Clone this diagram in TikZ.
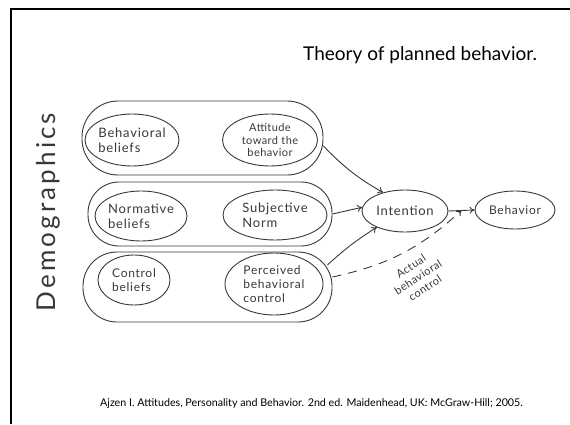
\documentclass[tikz,border=0pt]{standalone}
\usepackage{fontspec}
\setmainfont{Lato}
\usetikzlibrary{shapes.geometric,arrows.meta,calc}
\definecolor{ink}{HTML}{383838}
\begin{document}
\begin{tikzpicture}[x=1pt,y=1pt,
  group/.style={draw=ink, line width=0.9pt, rectangle, inner sep=0pt},
  ring/.style={draw=ink, line width=0.9pt, ellipse, inner sep=0pt},
  hand/.style={text=ink, align=center, font=\fontsize{12}{14}\selectfont\addfontfeature{LetterSpace=6}},
  link/.style={draw=ink, line width=0.9pt, -{To[length=5pt,width=7pt]}},
]
\useasboundingbox (0,0) rectangle (570,424);

% slide frame
\draw[line width=1.5pt] (11,0) -- (11,415) -- (570,415);

% title and reference
\node[anchor=base west, inner sep=0pt, font=\fontsize{19}{23}\selectfont] (title) at (303,363) {Theory of planned behavior.};
\node[anchor=base west, inner sep=0pt, font=\fontsize{10.7}{13}\selectfont] (cite) at (100,18)
  {Ajzen I. Attitudes, Personality and Behavior. 2nd ed. Maidenhead, UK: McGraw-Hill; 2005.};

% side label
\node[rotate=90, inner sep=0pt, text=ink, font=\fontsize{26}{30}\selectfont\addfontfeature{LetterSpace=12}] (demo) at (48,212) {Demographics};

% three belief groups
\node[group, rounded corners=36pt, minimum width=241pt, minimum height=74pt] (g1) at (202.5,286) {};
\node[group, rounded corners=31pt, minimum width=244pt, minimum height=64pt] (g2) at (210,210) {};
\node[group, rounded corners=34pt, minimum width=249pt, minimum height=70pt] (g3) at (207.5,137) {};

% beliefs and their constructs
\node[ring, minimum width=94pt, minimum height=52pt, label={[hand, align=left, font=\fontsize{13}{15}\selectfont\addfontfeature{LetterSpace=6}]center:Behavioral\\beliefs}] (bb) at (132,284) {};
\node[ring, minimum width=95pt, minimum height=52pt, label={[hand, font=\fontsize{11}{12.5}\selectfont\addfontfeature{LetterSpace=4}]center:Attitude\\toward the\\behavior}] (att) at (270,284) {};
\node[ring, minimum width=92pt, minimum height=50pt, label={[hand, align=left, font=\fontsize{13}{15}\selectfont\addfontfeature{LetterSpace=6}]center:Normative\\beliefs}] (nb) at (141,208) {};
\node[ring, minimum width=104pt, minimum height=50pt, label={[hand, align=left, font=\fontsize{13}{15}\selectfont\addfontfeature{LetterSpace=6}]center:Subjective\\Norm}] (sn) at (275,209) {};
\node[ring, minimum width=72pt, minimum height=50pt, label={[hand, align=left]center:Control\\beliefs}] (cb) at (134,144) {};
\node[ring, minimum width=98pt, minimum height=62pt, label={[hand, align=left]center:Perceived\\behavioral\\control}] (pbc) at (274,140) {};

% intention and behavior
\node[ring, minimum width=86pt, minimum height=42pt, label={[hand, font=\fontsize{13}{15}\selectfont\addfontfeature{LetterSpace=6}]center:Intention}] (int) at (405,213) {};
\node[ring, minimum width=80pt, minimum height=38pt, label={[hand]center:Behavior}] (beh) at (515,214) {};

% connectors
\coordinate (m) at ($(int.east)!0.5!(beh.west)$);
\draw[link] ([yshift=-8pt]g1.east) to[bend right=8] (int.140);
\draw[link] (g2.east) -- (int.175);
\draw[link] ([xshift=-5pt]g3.10) to[bend left=5] (int.-150);
\draw[link] (int.east) -- (beh.west);
\draw[link, dash pattern=on 9pt off 7pt] ([yshift=10pt]g3.east) to[bend right=15] (m);

\node[hand, rotate=33, font=\fontsize{11}{13}\selectfont\addfontfeature{LetterSpace=4}] (abc) at (418,147) {Actual\\behavioral\\control};
\end{tikzpicture}
\end{document}
